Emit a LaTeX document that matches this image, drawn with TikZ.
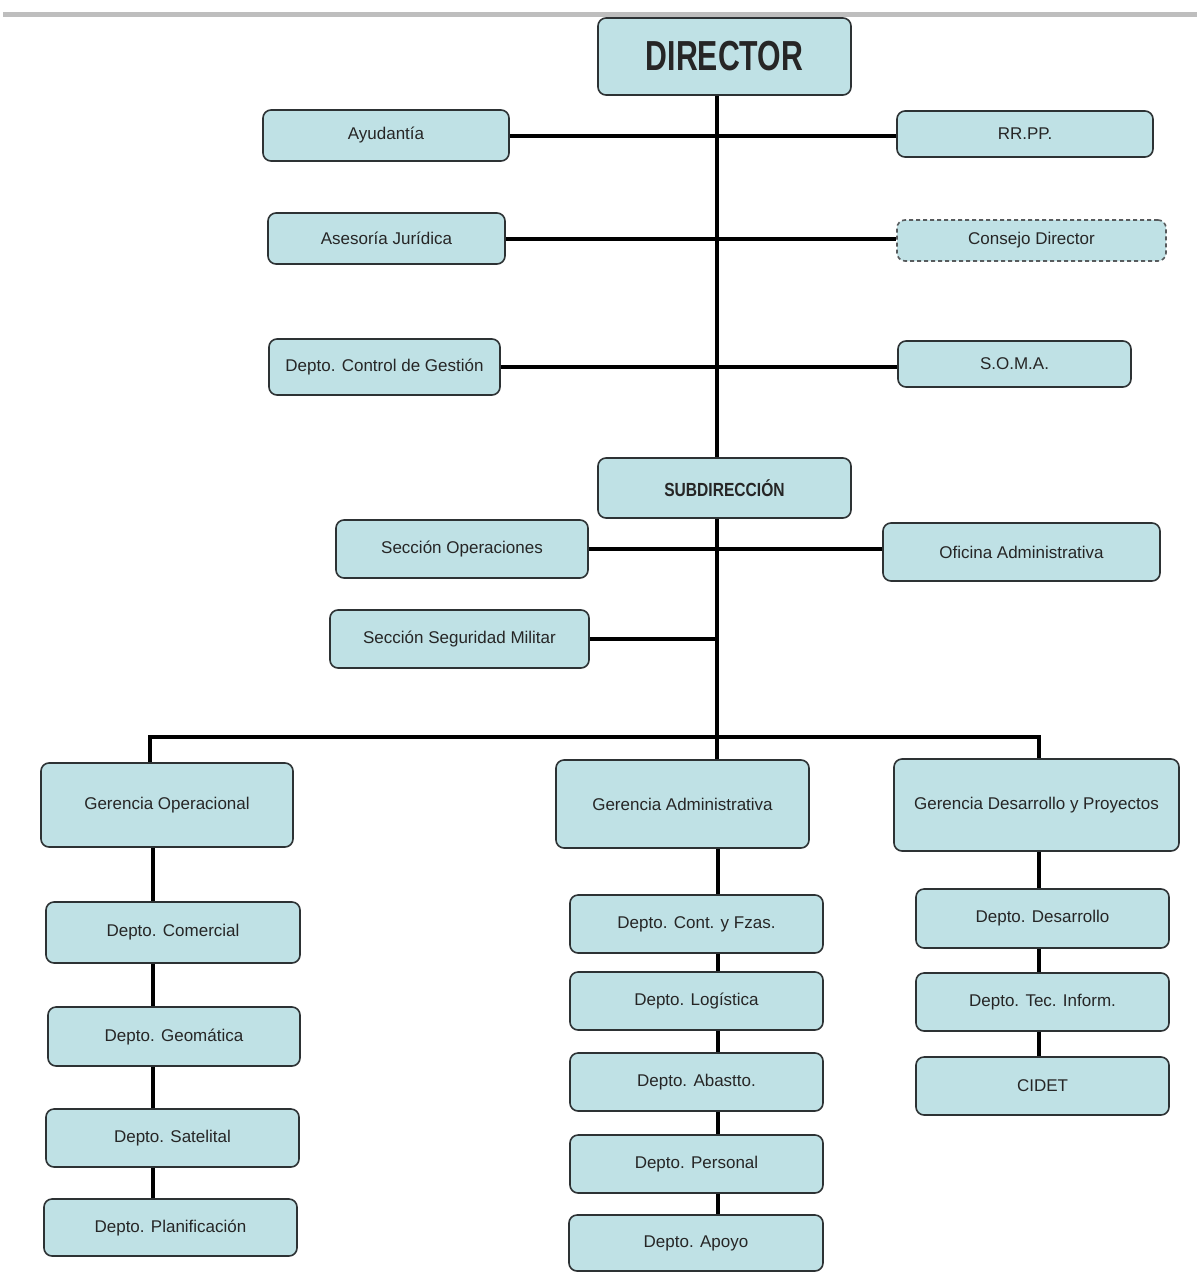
\documentclass[tikz,border=0pt]{standalone}
\usepackage{fontspec}
\usepackage{graphicx}
\setmainfont{Liberation Sans}
\definecolor{boxblue}{RGB}{191,225,229}
\definecolor{edge}{RGB}{45,50,52}
\definecolor{topgray}{RGB}{190,190,190}
\begin{document}
\begin{tikzpicture}[x=1pt,y=-1pt,
  box/.style={draw=edge, line width=1.6pt, rounded corners=8pt, fill=boxblue,
    inner sep=0pt, text=black!85, font=\fontsize{17}{17}\selectfont},
  dbox/.style={box, dashed, dash pattern=on 4pt off 3pt, draw=edge!80},
  conn/.style={line width=4pt, black}]
\useasboundingbox (0,0) rectangle (1197,1275);
\fill[white] (0,0) rectangle (1197,1275);
% top gray rule
\coordinate (ruleL) at (3,14);
\coordinate (ruleR) at (1197,14);
\draw[topgray, line width=5pt] (ruleL) -- (ruleR);
% spine coordinates
\coordinate (s) at (717,0);
\coordinate (ca) at (153,0);
\coordinate (cb) at (718,0);
\coordinate (cc) at (1039,0);
\coordinate (busL) at (150,737);
\coordinate (busR) at (1039,737);
\coordinate (busM) at (717,737);

% nodes
\node[box, minimum width=253, minimum height=77] (director) at (724.5,56.5)
  {\fontsize{42}{42}\selectfont\bfseries\scalebox{0.72}[1]{DIRECTOR}};
\node[box, minimum width=246, minimum height=51] (ayud) at (386,135.5) {Ayudantía};
\node[box, minimum width=256, minimum height=46] (rrpp) at (1025,134) {RR.PP.};
\node[box, minimum width=237, minimum height=51] (asesoria) at (386.5,238.5) {Asesoría Jurídica};
\node[dbox, minimum width=269, minimum height=41] (consejo) at (1031.5,240.5) {Consejo Director};
\node[box, minimum width=231, minimum height=56] (control) at (384.5,367) {Depto. Control de Gestión};
\node[box, minimum width=233, minimum height=46] (soma) at (1014.5,364) {S.O.M.A.};
\node[box, minimum width=253, minimum height=60] (subdir) at (724.5,488)
  {\fontsize{19}{19}\selectfont\bfseries\scalebox{0.82}[1]{SUBDIRECCIÓN}};
\node[box, minimum width=252, minimum height=58] (secop) at (462,549) {Sección Operaciones};
\node[box, minimum width=277, minimum height=58] (oficina) at (1021.5,552) {Oficina Administrativa};
\node[box, minimum width=259, minimum height=58] (secseg) at (459.5,639) {Sección Seguridad Militar};

\node[box, minimum width=252, minimum height=84] (gop) at (167,805) {Gerencia Operacional};
\node[box, minimum width=253, minimum height=88] (gadm) at (682.5,804) {Gerencia Administrativa};
\node[box, minimum width=285, minimum height=92] (gdes) at (1036.5,805) {Gerencia Desarrollo y Proyectos};

\node[box, minimum width=254, minimum height=61] (comercial) at (173,932.5) {Depto. Comercial};
\node[box, minimum width=252, minimum height=59] (geomatica) at (174,1036.5) {Depto. Geomática};
\node[box, minimum width=253, minimum height=58] (satelital) at (172.5,1138) {Depto. Satelital};
\node[box, minimum width=253, minimum height=57] (planif) at (170.5,1227.5) {Depto. Planificación};

\node[box, minimum width=253, minimum height=58] (cont) at (696.5,924) {Depto. Cont. y Fzas.};
\node[box, minimum width=253, minimum height=58] (logistica) at (696.5,1001) {Depto. Logística};
\node[box, minimum width=253, minimum height=58] (abastto) at (696.5,1082) {Depto. Abastto.};
\node[box, minimum width=253, minimum height=58] (personal) at (696.5,1164) {Depto. Personal};
\node[box, minimum width=254, minimum height=56] (apoyo) at (696,1243) {Depto. Apoyo};

\node[box, minimum width=253, minimum height=59] (desarrollo) at (1042.5,918.5) {Depto. Desarrollo};
\node[box, minimum width=253, minimum height=58] (tec) at (1042.5,1002) {Depto. Tec. Inform.};
\node[box, minimum width=253, minimum height=58] (cidet) at (1042.5,1086) {CIDET};

% connectors
\draw[conn] (director.south -| s) -- (subdir.north -| s);
\draw[conn] (ayud.east) -- (ayud.east -| rrpp.west);
\draw[conn] (asesoria.east) -- (asesoria.east -| consejo.west);
\draw[conn] (control.east) -- (control.east -| soma.west);
\draw[conn] (secop.east) -- (secop.east -| oficina.west);
\draw[conn] (secseg.east) -- (secseg.east -| s);
\draw[conn] (subdir.south -| s) -- (busM) -- (gadm.north -| s);
\draw[conn] (gop.north -| busL) -- (busL) -- (busR) -- (gdes.north -| busR);

\draw[conn] (gop.south -| ca) -- (comercial.north -| ca);
\draw[conn] (comercial.south -| ca) -- (geomatica.north -| ca);
\draw[conn] (geomatica.south -| ca) -- (satelital.north -| ca);
\draw[conn] (satelital.south -| ca) -- (planif.north -| ca);

\draw[conn] (gadm.south -| cb) -- (cont.north -| cb);
\draw[conn] (cont.south -| cb) -- (logistica.north -| cb);
\draw[conn] (logistica.south -| cb) -- (abastto.north -| cb);
\draw[conn] (abastto.south -| cb) -- (personal.north -| cb);
\draw[conn] (personal.south -| cb) -- (apoyo.north -| cb);

\draw[conn] (gdes.south -| cc) -- (desarrollo.north -| cc);
\draw[conn] (desarrollo.south -| cc) -- (tec.north -| cc);
\draw[conn] (tec.south -| cc) -- (cidet.north -| cc);
\end{tikzpicture}
\end{document}
